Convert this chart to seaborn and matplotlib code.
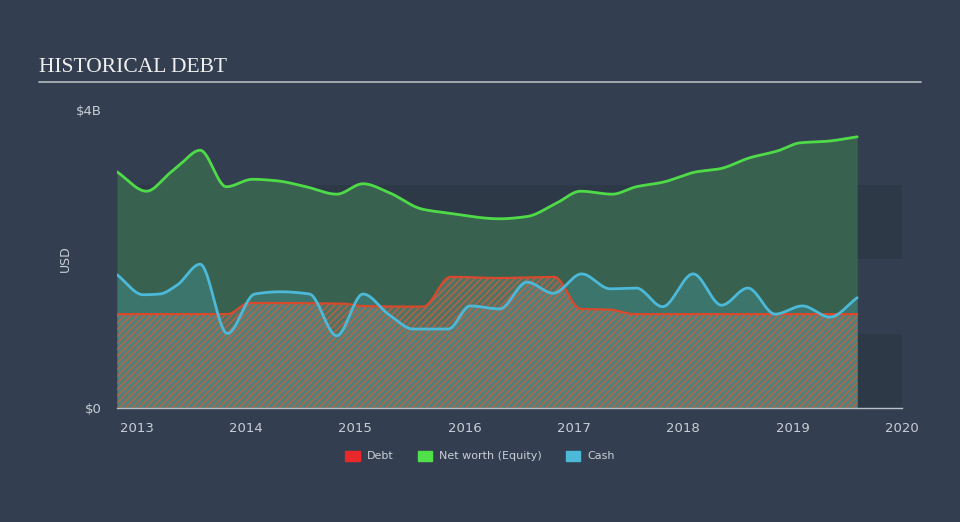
import numpy as np
import pandas as pd
import matplotlib
matplotlib.use('Agg')
import matplotlib.pyplot as plt
from matplotlib.patches import Patch
import seaborn as sns

# values, in $B
networth_year = [2012.82, 2013.09, 2013.30, 2013.39, 2013.58, 2013.82, 2014.06, 2014.28,
                 2014.55, 2014.83, 2015.07, 2015.31, 2015.61, 2015.83, 2016.32, 2016.57, 2016.84,
                 2017.06, 2017.35, 2017.57, 2017.81, 2018.12, 2018.33, 2018.61, 2018.86, 2019.07,
                 2019.31, 2019.59]
networth = [3.17, 2.91, 3.15, 3.26, 3.46, 2.97, 3.07, 3.05,
            2.97, 2.87, 3.01, 2.89, 2.67, 2.62, 2.54, 2.57, 2.75,
            2.91, 2.87, 2.97, 3.03, 3.17, 3.21, 3.36, 3.45, 3.56,
            3.58, 3.64]

debt_year = [2012.82, 2013.83, 2014.03, 2014.90, 2015.05, 2015.62, 2015.87, 2016.30, 2016.82,
             2017.06, 2017.33, 2017.55, 2019.59]
debt = [1.26, 1.26, 1.41, 1.40, 1.37, 1.36, 1.76, 1.745, 1.76,
        1.33, 1.32, 1.26, 1.26]

cash_year = [2012.82, 2013.06, 2013.21, 2013.37, 2013.58, 2013.83, 2014.08,
             2014.31, 2014.58, 2014.83, 2015.07, 2015.31, 2015.53, 2015.85, 2016.05,
             2016.32, 2016.57, 2016.81, 2017.07, 2017.33, 2017.57, 2017.81, 2018.09, 2018.35,
             2018.59, 2018.84, 2019.09, 2019.34, 2019.59]
cash = [1.79, 1.52, 1.53, 1.65, 1.93, 1.00, 1.53,
        1.56, 1.53, 0.97, 1.53, 1.25, 1.06, 1.06, 1.37,
        1.33, 1.69, 1.54, 1.80, 1.60, 1.61, 1.36, 1.80, 1.38,
        1.61, 1.26, 1.37, 1.22, 1.48]

year_ticks = [2013, 2014, 2015, 2016, 2017, 2018, 2019, 2020]


def smooth(x, y, n=800):
    '''monotone cubic curve through the points, just for drawing'''
    x = np.asarray(x, float)
    y = np.asarray(y, float)
    h = np.diff(x)
    d = np.diff(y) / h
    m = np.zeros_like(y)
    m[0], m[-1] = d[0], d[-1]
    for k in range(1, len(x) - 1):
        if d[k - 1] * d[k] > 0:
            w1 = 2 * h[k] + h[k - 1]
            w2 = h[k] + 2 * h[k - 1]
            m[k] = (w1 + w2) / (w1 / d[k - 1] + w2 / d[k])
    xs = np.linspace(x[0], x[-1], n)
    idx = np.clip(np.searchsorted(x, xs) - 1, 0, len(x) - 2)
    t = (xs - x[idx]) / h[idx]
    h00 = 2 * t**3 - 3 * t**2 + 1
    h10 = t**3 - 2 * t**2 + t
    h01 = -2 * t**3 + 3 * t**2
    h11 = t**3 - t**2
    ys = h00 * y[idx] + h10 * h[idx] * m[idx] + h01 * y[idx + 1] + h11 * h[idx] * m[idx + 1]
    return xs, ys


sns.set_style('dark')
bg = '#333f50'
plt.rcParams['font.family'] = ['DejaVu Sans']
plt.rcParams['hatch.linewidth'] = 1.1

fig = plt.figure(figsize=(9.6, 5.22), dpi=100, facecolor=bg)
ax = fig.add_axes([117 / 960, 1 - 408 / 522, 785 / 960, 298 / 522])
ax.set_facecolor(bg)

# alternating bands behind the data
ax.axhspan(0, 1, color='#2e3948', zorder=0, lw=0)
ax.axhspan(2, 3, color='#2e3948', zorder=0, lw=0)

nx, ny = smooth(networth_year, networth)
dx, dy = smooth(debt_year, debt)
cx, cy = smooth(cash_year, cash)

nw = pd.DataFrame({'year': nx, 'value': ny})
db = pd.DataFrame({'year': dx, 'value': dy})
cs = pd.DataFrame({'year': cx, 'value': cy})

ax.fill_between(nw.year, 0, nw.value, color='#38624f', lw=0, zorder=1)
ax.fill_between(cs.year, 0, cs.value, color='#3b756c', lw=0, zorder=2)
# debt area: light grey wash plus red hatching
ax.fill_between(db.year, 0, db.value, color='#a8b0ac', alpha=0.22, lw=0, zorder=3)
ax.fill_between(db.year, 0, db.value, facecolor='none', edgecolor='#cc5f3f',
                hatch='/////', lw=0, zorder=3, alpha=0.8)

sns.lineplot(data=db, x='year', y='value', color='#d9492d', lw=1.6, ax=ax, zorder=4)
sns.lineplot(data=nw, x='year', y='value', color='#4fdb48', lw=2, ax=ax, zorder=5)
sns.lineplot(data=cs, x='year', y='value', color='#4cb9d9', lw=2, ax=ax, zorder=5)

ax.set_xlim(2012.82, 2020.0)
ax.set_ylim(0, 4)
ax.set_xticks(year_ticks)
ax.set_xticklabels([str(y) for y in year_ticks], color='#c9ced6', fontsize=9.5)
ax.set_yticks([0, 4])
ax.set_yticklabels(['$0', '$4B'], color='#c9ced6', fontsize=9.5)
ax.tick_params(axis='x', length=8, width=1, color='#b9c0ca', direction='out', pad=2)
ax.tick_params(axis='y', length=0, pad=11)
ax.set_xlabel('')
ax.set_ylabel('USD', color='#c9ced6', fontsize=9)
ax.yaxis.set_label_coords(-0.057, 0.5)
ax.grid(False)
for s in ['top', 'right', 'left']:
    ax.spines[s].set_visible(False)
ax.spines['bottom'].set_color('#b9c0ca')
ax.spines['bottom'].set_linewidth(1)

# title with rule beneath
fig.text(39 / 960, 1 - 67 / 522, 'HISTORICAL DEBT', color='#f0f0f0', fontsize=15.5,
         family='Liberation Serif', va='center', ha='left')
fig.add_artist(plt.Line2D([39 / 960, 921 / 960], [1 - 82 / 522, 1 - 82 / 522],
                          color='#aab0b8', lw=1.3, transform=fig.transFigure))

handles = [Patch(color='#e8282b', label='Debt'),
           Patch(color='#4fe04a', label='Net worth (Equity)'),
           Patch(color='#4cb9d9', label='Cash')]
fig.legend(handles=handles, loc='center', bbox_to_anchor=(0.5, 1 - 456 / 522), ncol=3,
           frameon=False, fontsize=8, labelcolor='#c9ced6', handlelength=1.3,
           handleheight=1.0, columnspacing=2.2, handletextpad=0.6)

plt.savefig('out.png', dpi=100, facecolor=bg)
